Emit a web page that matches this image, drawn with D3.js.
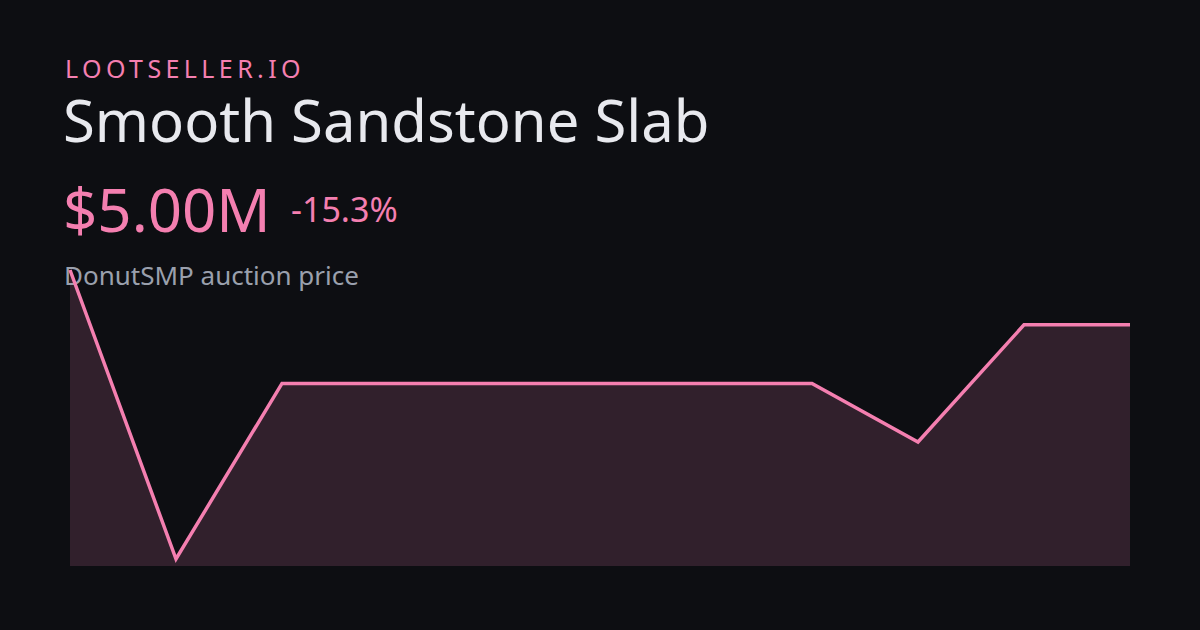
<!DOCTYPE html>
<html>
<head>
<meta charset="utf-8">
<script src="https://cdn.jsdelivr.net/npm/d3@7"></script>
<style>
  html, body { margin: 0; padding: 0; background: #0d0e12; }
  svg { display: block; }
  text { font-family: "Noto Sans", "Open Sans", sans-serif; }
</style>
</head>
<body>
<script>
const brand = "LOOTSELLER.IO";
const title = "Smooth Sandstone Slab";
const priceLabel = "$5.00M";
const changeLabel = "-15.3%";
const subtitle = "DonutSMP auction price";
const days = [0, 1, 2, 3, 4, 5, 6, 7, 8, 9, 10];
const prices = [5.90, 1.16, 4.04, 4.04, 4.04, 4.04, 4.04, 4.04, 3.08, 5.00, 5.00];

const W = 1200, H = 630;
const pink = "#f47fb0";
const svg = d3.select("body").append("svg").attr("width", W).attr("height", H);
svg.append("rect").attr("width", W).attr("height", H).attr("fill", "#0d0e12");

const x = d3.scaleLinear().domain(d3.extent(days)).range([70, 1130]);
const y = d3.scaleLinear().domain(d3.extent(prices)).range([559, 270]);
const base = 566;

const data = days.map((d, i) => ({ d, v: prices[i] }));

svg.append("path")
  .datum(data)
  .attr("fill", "#31202c")
  .attr("d", d3.area().x(p => x(p.d)).y0(base).y1(p => y(p.v)));

svg.append("text").attr("x", 65).attr("y", 78).attr("fill", pink)
  .attr("font-size", 25).attr("letter-spacing", 4.4).text(brand);
svg.append("text").attr("x", 63).attr("y", 142).attr("fill", "#e8e9ee")
  .attr("font-size", 58).text(title);
svg.append("text").attr("x", 63).attr("y", 232).attr("fill", pink)
  .attr("font-size", 60).text(priceLabel);
svg.append("text").attr("x", 291).attr("y", 222).attr("fill", pink)
  .attr("font-size", 34).text(changeLabel);
svg.append("text").attr("x", 64).attr("y", 285).attr("fill", "#9aa0ad")
  .attr("font-size", 26).text(subtitle);

svg.append("path")
  .datum(data)
  .attr("fill", "none")
  .attr("stroke", pink)
  .attr("stroke-width", 3.5)
  .attr("stroke-linejoin", "miter")
  .attr("d", d3.line().x(p => x(p.d)).y(p => y(p.v)));
</script>
</body>
</html>
